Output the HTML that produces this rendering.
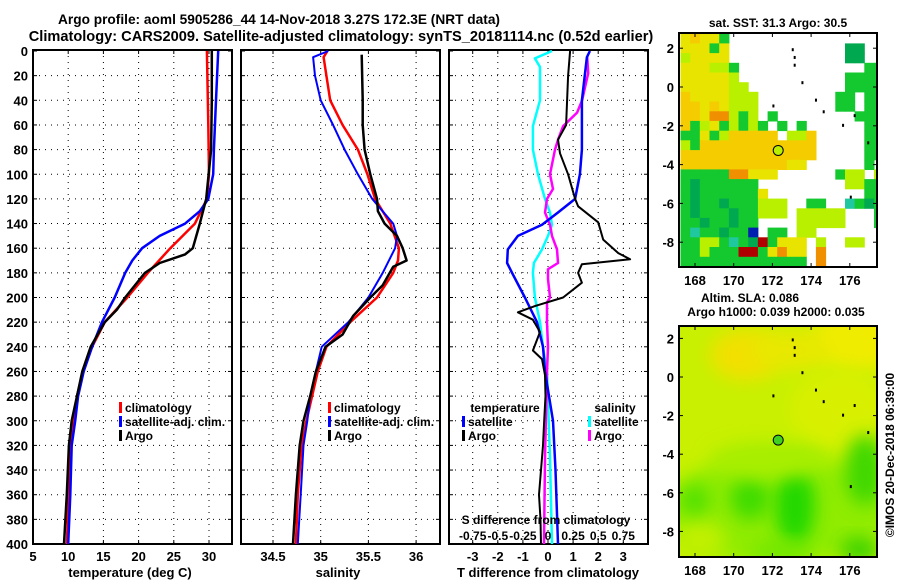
<!DOCTYPE html>
<html><head><meta charset="utf-8">
<style>
html,body{margin:0;padding:0;background:#fff;}
svg{display:block;font-family:"Liberation Sans",Arial,sans-serif;font-weight:bold;}
</style></head>
<body>
<svg id="fig" width="900" height="580" viewBox="0 0 900 580" xmlns="http://www.w3.org/2000/svg">
<defs>
<filter id="blur" x="-50%" y="-50%" width="200%" height="200%"><feGaussianBlur stdDeviation="9"/></filter>
<clipPath id="clipP1"><rect x="33" y="50" width="199" height="494"/></clipPath>
<clipPath id="clipP2"><rect x="241" y="50" width="199" height="494"/></clipPath>
<clipPath id="clipP3"><rect x="449" y="50" width="199" height="494"/></clipPath>
<clipPath id="clipM1"><rect x="679" y="33" width="198" height="234"/></clipPath>
<clipPath id="clipM2"><rect x="679" y="326" width="198" height="231"/></clipPath>
</defs>
<text x="279" y="24" font-size="14" text-anchor="middle" textLength="442" lengthAdjust="spacingAndGlyphs">Argo profile: aoml 5905286_44 14-Nov-2018 3.27S 172.3E (NRT data)</text>
<text x="341" y="41" font-size="14.6" text-anchor="middle">Climatology: CARS2009. Satellite-adjusted climatology: synTS_20181114.nc (0.52d earlier)</text>
<g id="layer"></g>
</svg>
<script>
// ---------- Profile data (depth in m) ----------
var tempClimDepth = [0,60,100,120,140,160,180,200,220,240,260,280,300,320,360,400];
var tempClim      = [29.7,29.9,30.0,29.7,28.0,24.5,21.3,18.4,15.2,13.4,12.1,11.25,10.8,10.4,10.1,9.8];
var tempSatDepth  = [0,40,80,100,120,130,140,150,160,170,180,200,220,240,260,280,300,320,360,400];
var tempSat       = [31.3,31.0,30.7,30.6,29.9,28.7,26.6,23.0,20.5,19.1,18.1,16.6,14.8,13.4,12.2,11.4,11.0,10.5,10.3,10.0];
var tempArgoDepth = [0,40,80,120,140,160,165,172,180,200,210,220,240,260,300,320,360,400];
var tempArgo      = [30.4,30.4,30.3,29.6,28.7,27.7,26.6,23.0,20.9,18.1,16.9,15.2,13.2,12.0,10.5,10.1,9.8,9.4];

var salClimDepth = [0,5,20,40,60,80,100,120,140,160,170,180,200,220,240,260,280,300,320,360,400];
var salClim      = [35.07,35.03,35.06,35.10,35.23,35.39,35.49,35.57,35.73,35.82,35.81,35.76,35.59,35.31,35.06,34.97,34.91,34.85,34.80,34.76,34.74];
var salSatDepth  = [0,5,20,40,60,80,100,120,140,150,160,180,200,220,240,260,280,300,320,360,400];
var salSat       = [35.08,34.92,34.94,35.0,35.13,35.25,35.39,35.54,35.76,35.80,35.78,35.65,35.50,35.29,35.01,34.95,34.89,34.86,34.82,34.79,34.76];
var salArgoDepth = [3,40,60,80,100,120,130,140,150,160,170,175,190,200,215,230,240,260,280,300,320,360,400];
var salArgo      = [35.43,35.44,35.44,35.46,35.52,35.59,35.60,35.67,35.80,35.86,35.90,35.76,35.65,35.52,35.34,35.23,35.05,34.95,34.89,34.82,34.78,34.74,34.71];

var dTSatDepth  = [0,5,40,80,100,120,131,141,150,161,172,180,200,220,240,260,300,340,400];
var dTSat       = [1.67,1.55,1.35,1.35,1.27,1.08,0.4,-0.24,-1.2,-1.6,-1.63,-1.43,-0.92,-0.44,-0.2,-0.12,0.2,0.3,0.4];
var dTArgoDepth = [0,20,60,72,83,100,120,126,139,153,164,169,173,180,188,200,207,212,218,228,243,250,263,280,300,320,340,360,380,400];
var dTArgo      = [0.88,0.8,0.72,0.4,0.48,0.8,1.08,1.2,2.0,2.2,2.8,3.27,1.35,1.2,1.35,0.6,-0.52,-1.2,-0.6,-0.32,-0.6,-0.24,-0.12,-0.1,-0.15,-0.2,-0.28,-0.36,-0.3,-0.28];
var dSSatDepth  = [0,6,13,40,61,80,100,120,131,141,150,161,172,180,200,220,240,261,330,400];
var dSSat       = [0.04,-0.13,-0.08,-0.08,-0.15,-0.15,-0.1,-0.03,0.02,0.04,0.0,-0.06,-0.14,-0.15,-0.13,-0.08,-0.05,-0.01,0.02,0.04];
var dSArgoDepth = [5,18,40,50,61,72,80,100,112,120,131,141,150,161,172,177,185,200,204,220,240,261,330,400];
var dSArgo      = [0.39,0.40,0.34,0.29,0.15,0.10,0.07,0.02,0.05,-0.01,-0.03,0.02,0.04,0.09,0.10,0.0,0.0,0.02,-0.01,-0.01,0.0,-0.01,-0.03,-0.04];

var depthTicks = [0,20,40,60,80,100,120,140,160,180,200,220,240,260,280,300,320,340,360,380,400];
var tempTicks = [5,10,15,20,25,30];
var salTicks = [34.5,35,35.5,36];
var salTickLabels = ["34.5","35","35.5","36"];
var dTTicks = [-3,-2,-1,0,1,2,3];
var dSTickLabels = ["-0.75","-0.5","-0.25","0","0.25","0.5","0.75"];

// ---------- SST map grid (0.5 deg cells; lon 167.25.., lat 2.75 down) ----------
var sstRows = [
"yoyyg................",
"yyygy............GG..",
"lyyyy............GG..",
"yyyllg.............gg",
"yyyyyl...........gggg",
"yyyyyll..........gggg",
"oyyyylll........gg.gg",
"ooyoylll........gg.gg",
"ooyOOlgl.g........ggg",
"oglyglglg.g.g......gg",
"ggyglooooo.llo.....gg",
"lgoooooooooooo.....gg",
"oooooooooooooo.....gg",
"oooooooooooyy......g.",
"gggggOOyyy......gll.l",
"gGgggggg.........llgg",
"gGggggggy..........gg",
"gGggGggglll..gg..tgGg",
"gGgggGgglll.lllll...g",
"ggGggGgg....lllll...g",
"gtggGggb.gg.ll.......",
"ggllgtgGrgyyy.l..ll..",
"gglgggrrgyOyy.O......",
"ggggggggggggg.O......",
"gggggggggggg.gO......"
];
var sstColors = {y:"#e8e400",o:"#f4cc00",l:"#b8f000",g:"#14c830",G:"#00a850",O:"#f09000",r:"#b00000",b:"#0020b0",t:"#20c8a0"};
var mapLonTicks = [168,170,172,174,176];
var mapLatTicks = [2,0,-2,-4,-6,-8];
var argoLon = 172.3, argoLat = -3.27;

var NS="http://www.w3.org/2000/svg";
var layer=document.getElementById('layer');
function mk(tag,attrs,parent){var e=document.createElementNS(NS,tag);for(var k in attrs)e.setAttribute(k,attrs[k]);(parent||layer).appendChild(e);return e;}

var Y0=51, Y1=544, PT=50;
function yD(d){return Y0+d*(Y1-Y0)/400;}
function xT(t){return 33+(t-5)*7.04;}
function xS(s){return 273+(s-34.5)*95.4;}
function xDT(v){return 548+v*25.1;}
function xDS(v){return 548+v*100.4;}

function panel(x0,name){
  var g=mk('g',{});
  
  
  return g;
}
function gridAndFrame(g,x0,x1,xs,scale,label){
  depthTicks.forEach(function(d){
    if(d>0&&d<400){var l=mk('line',{x1:x0,x2:x1,y1:yD(d),y2:yD(d),stroke:'#000','stroke-width':1,'stroke-dasharray':'1,5'},g);
    
    }
    mk('line',{x1:x0,x2:x0+4,y1:yD(d),y2:yD(d),stroke:'#000'},g);
    mk('line',{x1:x1-4,x2:x1,y1:yD(d),y2:yD(d),stroke:'#000'},g);
  });
  xs.forEach(function(v){
    var x=scale(v);
    if(x>x0+2&&x<x1-2){var l=mk('line',{x1:x,x2:x,y1:PT,y2:Y1,stroke:'#000','stroke-width':1,'stroke-dasharray':'1,5'},g);
    
    }
    mk('line',{x1:x,x2:x,y1:Y1-4,y2:Y1,stroke:'#000'},g);
    mk('line',{x1:x,x2:x,y1:PT,y2:PT+4,stroke:'#000'},g);
  });
  var r=mk('rect',{x:x0,y:PT,width:x1-x0,height:Y1-PT,fill:'none',stroke:'#000','stroke-width':2},g);
  
  
}
function curve(g,depths,vals,scale,color,w,clip,name){
  var p='';
  for(var i=0;i<vals.length;i++){p+=(i?'L':'M')+scale(vals[i]).toFixed(1)+','+yD(depths[i]).toFixed(1);}
  var e=mk('path',{d:p,fill:'none',stroke:color,'stroke-width':w,'stroke-linejoin':'round','clip-path':'url(#'+clip+')'},g);
  
  
}
function txt(g,x,y,s,size,anchor,name,fill){
  var t=mk('text',{x:x,y:y,'font-size':size,'text-anchor':anchor||'start',fill:fill||'#000'},g);
  t.textContent=s;
  
  
  return t;
}
function legendEntry(g,x,y,color,label){
  var r=mk('rect',{x:x,y:y-10,width:3,height:11,fill:color},g);
  
  
  txt(g,x+6,y,label,12,'start','legend-entry');
}

// Panel 1 temperature
var g1=panel(33,'temperature-panel');
gridAndFrame(g1,33,232,tempTicks,xT);
curve(g1,tempClimDepth,tempClim,xT,'#f00',2.5,'clipP1','temp-climatology-line');
curve(g1,tempSatDepth,tempSat,xT,'#00f',2.5,'clipP1','temp-satellite-line');
curve(g1,tempArgoDepth,tempArgo,xT,'#000',2.5,'clipP1','temp-argo-line');
depthTicks.forEach(function(d){txt(g1,28,yD(d)+5,String(d),13,'end','y-tick-label');});
tempTicks.forEach(function(v){txt(g1,xT(v),561,String(v),13,'middle','x-tick-label');});
txt(g1,130,577,'temperature (deg C)',13,'middle','x-axis-title');
legendEntry(g1,119,412,'#f00','climatology');
legendEntry(g1,119,426,'#00f','satellite-adj. clim.');
legendEntry(g1,119,440,'#000','Argo');

// Panel 2 salinity
var g2=panel(241,'salinity-panel');
gridAndFrame(g2,241,440,salTicks,xS);
curve(g2,salClimDepth,salClim,xS,'#f00',2.5,'clipP2','sal-climatology-line');
curve(g2,salSatDepth,salSat,xS,'#00f',2,'clipP2','sal-satellite-line');
curve(g2,salArgoDepth,salArgo,xS,'#000',2.5,'clipP2','sal-argo-line');
salTicks.forEach(function(v,i){txt(g2,xS(v),561,salTickLabels[i],13,'middle','x-tick-label');});
txt(g2,338,577,'salinity',13,'middle','x-axis-title');
legendEntry(g2,328,412,'#f00','climatology');
legendEntry(g2,328,426,'#00f','satellite-adj. clim.');
legendEntry(g2,328,440,'#000','Argo');

// Panel 3 differences
var g3=panel(449,'difference-panel');
gridAndFrame(g3,449,648,dTTicks,xDT);
curve(g3,dSSatDepth,dSSat,xDS,'#0ff',2.5,'clipP3','sal-diff-satellite-line');
curve(g3,dSArgoDepth,dSArgo,xDS,'#f0f',2.5,'clipP3','sal-diff-argo-line');
curve(g3,dTSatDepth,dTSat,xDT,'#00f',2.5,'clipP3','temp-diff-satellite-line');
curve(g3,dTArgoDepth,dTArgo,xDT,'#000',2,'clipP3','temp-diff-argo-line');
dTTicks.forEach(function(v){txt(g3,xDT(v),561,String(v),13,'middle','x-tick-label');});
txt(g3,548,577,'T difference from climatology',13,'middle','x-axis-title');
txt(g3,546,524,'S difference from climatology',12,'middle','s-axis-title');
dSTickLabels.forEach(function(s,i){txt(g3,xDS(-0.75+0.25*i),540,s,12,'middle','s-tick-label');});
txt(g3,505,412,'temperature',12,'middle','legend-title-temperature');
legendEntry(g3,462,426,'#00f','satellite');
legendEntry(g3,462,440,'#000','Argo');
txt(g3,615,412,'salinity',12,'middle','legend-title-salinity');
legendEntry(g3,588,426,'#0ff','satellite');
legendEntry(g3,588,440,'#f0f','Argo');

// ---------- Maps ----------
var MX0=679,MX1=877;
function mLon(l){return 695+(l-168)*19.35;}
function m1Lat(l){return 87-l*19.4;}
function m2Lat(l){return 377-l*19.3;}
function mapAxes(g,top,bottom,latf){
  mapLatTicks.forEach(function(v){var y=latf(v);
    mk('line',{x1:MX0,x2:MX0+4,y1:y,y2:y,stroke:'#000'},g);mk('line',{x1:MX1-4,x2:MX1,y1:y,y2:y,stroke:'#000'},g);
    txt(g,674,y+5,String(v),13,'end','map-lat-label');});
  mapLonTicks.forEach(function(v){var x=mLon(v);
    mk('line',{x1:x,x2:x,y1:top,y2:top+4,stroke:'#000'},g);mk('line',{x1:x,x2:x,y1:bottom-4,y2:bottom,stroke:'#000'},g);
    txt(g,x,bottom+18,String(v),13,'middle','map-lon-label');});
  var r=mk('rect',{x:MX0,y:top,width:MX1-MX0,height:bottom-top,fill:'none',stroke:'#000','stroke-width':2},g);
  
  
}
var islands=[[173,2.0],[173.1,1.6],[173.1,1.2],[173.5,0.3],[174.2,-0.6],[174.6,-1.2],[175.6,-1.9],[176.2,-1.4],[172,-0.9],[176.9,-2.8],[176,-5.6]];

var gm1=panel(679,'sst-map');
txt(gm1,778,27,'sat. SST: 31.3 Argo: 30.5',12,'middle','sst-map-title');
var cg=mk('g',{'clip-path':'url(#clipM1)'},gm1);
sstRows.forEach(function(row,j){
  for(var i=0;i<row.length;i++){var c=row[i]; if(c==='.')continue;
    var lon0=167.25+0.5*i, lat0=2.75-0.5*j;
    var x=mLon(lon0), y=m1Lat(lat0);
    var r=mk('rect',{x:x.toFixed(1),y:y.toFixed(1),width:10.2,height:10.2,fill:sstColors[c]},cg);
    
    }
});
islands.forEach(function(p){mk('rect',{x:mLon(p[0]),y:m1Lat(p[1]),width:2,height:3,fill:'#000'},cg);});
var c1=mk('circle',{cx:mLon(argoLon),cy:m1Lat(argoLat),r:5,fill:'#b8f000',stroke:'#000','stroke-width':1},gm1);


mapAxes(gm1,33,267,m1Lat);

var gm2=panel(679,'sla-map');
txt(gm2,750,302,'Altim. SLA: 0.086',12,'middle','sla-map-title');
txt(gm2,776,316,'Argo h1000: 0.039 h2000: 0.035',12,'middle','sla-map-subtitle');
var cg2=mk('g',{'clip-path':'url(#clipM2)'},gm2);
mk('rect',{x:MX0,y:326,width:198,height:231,fill:'#c8f000'},cg2);
var blobs=[[860,340,50,30,'#f0ec00'],[745,355,35,25,'#f2e000'],[790,350,40,20,'#e8e800'],[840,410,50,40,'#d8f000'],
 [778,510,115,55,'#90ec00'],[700,540,25,20,'#c0f000'],
 [795,505,20,40,'#20d800'],[750,498,20,22,'#40dc00'],[695,500,15,15,'#50e000'],[865,470,20,35,'#40d800'],
 [860,550,20,12,'#30d000'],[780,552,30,10,'#70e600'],[770,460,60,18,'#a8ee00']];
blobs.forEach(function(b){mk('ellipse',{cx:b[0],cy:b[1],rx:b[2],ry:b[3],fill:b[4],filter:'url(#blur)'},cg2);});
islands.forEach(function(p){mk('rect',{x:mLon(p[0]),y:m2Lat(p[1]),width:2,height:3,fill:'#000'},cg2);});
var c2=mk('circle',{cx:mLon(argoLon),cy:m2Lat(argoLat),r:5,fill:'#40d020',stroke:'#000','stroke-width':1},gm2);


mapAxes(gm2,326,557,m2Lat);

var cr=txt(layer,0,0,'\u00a9IMOS 20-Dec-2018 06:39:00',12,'middle','credit-text');
cr.setAttribute('transform','translate(894,455) rotate(-90)');
</script>
</body></html>
